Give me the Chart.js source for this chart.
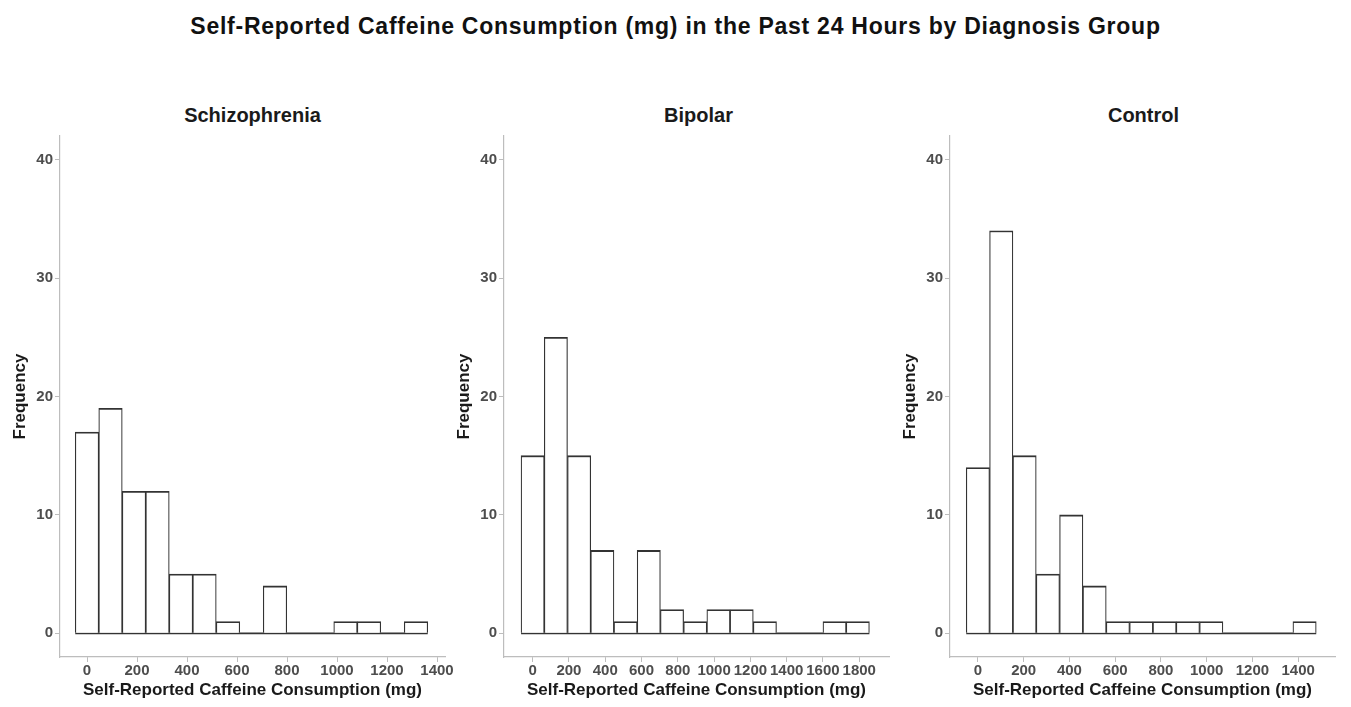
<!DOCTYPE html>
<html>
<head>
<meta charset="utf-8">
<script src="https://cdn.jsdelivr.net/npm/chart.js@4.4.0/dist/chart.umd.min.js"></script>
<style>
  body { margin: 0; background: #fff; width: 1351px; height: 707px; position: relative; overflow: hidden; font-family: "Liberation Sans", Arial, sans-serif; }
  #title { position: absolute; left: 0; width: 1351px; top: 13px; text-align: center; font-weight: bold; font-size: 23px; letter-spacing: 0.75px; color: #111; }
  .ptitle { position: absolute; top: 104px; text-align: center; font-weight: bold; font-size: 20px; color: #1a1a1a; }
  canvas { position: absolute; }
</style>
</head>
<body>
<div id="title">Self-Reported Caffeine Consumption (mg) in the Past 24 Hours by Diagnosis Group</div>
<div class="ptitle" style="left:60px;width:385px">Schizophrenia</div>
<div class="ptitle" style="left:504px;width:389px">Bipolar</div>
<div class="ptitle" style="left:950px;width:387px">Control</div>
<canvas id="c1" width="460" height="582" style="left:0px;top:125px"></canvas>
<canvas id="c2" width="460" height="582" style="left:444px;top:125px"></canvas>
<canvas id="c3" width="460" height="582" style="left:890px;top:125px"></canvas>
<script>
// histogram bin midpoints (mg) and counts per group
const schizoBins = [0, 94, 188, 282, 376, 470, 564, 658, 752, 846, 940, 1034, 1128, 1222, 1316];
const schizoCounts = [17, 19, 12, 12, 5, 5, 1, 0, 4, 0, 0, 1, 1, 0, 1];
const schizoWidth = 94;

const bipolarBins = [0, 128, 256, 384, 512, 640, 768, 896, 1024, 1152, 1280, 1408, 1536, 1664, 1792];
const bipolarCounts = [15, 25, 15, 7, 1, 7, 2, 1, 2, 2, 1, 0, 0, 1, 1];
const bipolarWidth = 128;

const controlBins = [0, 102, 204, 306, 408, 510, 612, 714, 816, 918, 1020, 1122, 1224, 1326, 1428];
const controlCounts = [14, 34, 15, 5, 10, 4, 1, 1, 1, 1, 1, 0, 0, 0, 1];
const controlWidth = 102;

const yTicks = [0, 10, 20, 30, 40];
const xTitle = 'Self-Reported Caffeine Consumption (mg)';
const yTitle = 'Frequency';

const axisGrey = '#bdbdbd';
const tickText = '#4d4d4d';

function makePanel(id, bins, counts, width, xMin, xMax) {
  const ctx = document.getElementById(id).getContext('2d');
  const pts = bins.map((b, i) => ({ x: b, y: counts[i] }));
  // zero line under the whole histogram, like ggplot draws empty bins
  const base = [
    { x: bins[0] - width / 2, y: 0 },
    { x: bins[bins.length - 1] + width / 2, y: 0 }
  ];
  new Chart(ctx, {
    type: 'bar',
    data: {
      datasets: [
        {
          data: pts,
          backgroundColor: '#ffffff',
          borderColor: '#333333',
          borderWidth: { top: 1.8, left: 1.2, right: 1.2, bottom: 0 },
          borderSkipped: false,
          barPercentage: 1,
          categoryPercentage: 1
        },
        {
          type: 'line',
          data: base,
          borderColor: '#333333',
          borderWidth: 1.8,
          pointRadius: 0
        }
      ]
    },
    options: {
      responsive: false,
      animation: false,
      devicePixelRatio: 1,
      layout: { padding: { left: 0, top: 10, right: 15, bottom: 0 } },
      plugins: { legend: { display: false }, tooltip: { enabled: false } },
      scales: {
        x: {
          type: 'linear',
          min: xMin,
          max: xMax,
          offset: false,
          grid: { drawOnChartArea: false, offset: false, color: axisGrey, tickLength: 5, tickWidth: 1 },
          border: { color: axisGrey, width: 1.2 },
          ticks: {
            stepSize: 200,
            includeBounds: false,
            autoSkip: false,
            maxRotation: 0,
            padding: 0,
            color: tickText,
            font: { family: 'Liberation Sans', size: 15, weight: 'bold' },
            callback: v => String(v)
          },
          title: {
            display: true,
            text: xTitle,
            color: '#1a1a1a',
            padding: { top: 0, bottom: 6 },
            font: { family: 'Liberation Sans', size: 17, weight: 'bold' }
          },
          afterFit: s => { s.height = 50; }
        },
        y: {
          min: -2,
          max: 42,
          grid: { drawOnChartArea: false, color: axisGrey, tickLength: 5, tickWidth: 1 },
          border: { color: axisGrey, width: 1.2 },
          afterBuildTicks: s => { s.ticks = yTicks.map(v => ({ value: v })); },
          ticks: {
            padding: 2,
            color: tickText,
            font: { family: 'Liberation Sans', size: 15, weight: 'bold' },
            callback: v => String(v)
          },
          title: {
            display: true,
            text: yTitle,
            color: '#1a1a1a',
            padding: { top: 10, bottom: 0 },
            font: { family: 'Liberation Sans', size: 17, weight: 'bold' }
          },
          afterFit: s => { s.width = 60; }
        }
      }
    }
  });
}

makePanel('c1', schizoBins, schizoCounts, schizoWidth, -108, 1432);
makePanel('c2', bipolarBins, bipolarCounts, bipolarWidth, -158, 1964);
makePanel('c3', controlBins, controlCounts, controlWidth, -122, 1561);
</script>
</body>
</html>
